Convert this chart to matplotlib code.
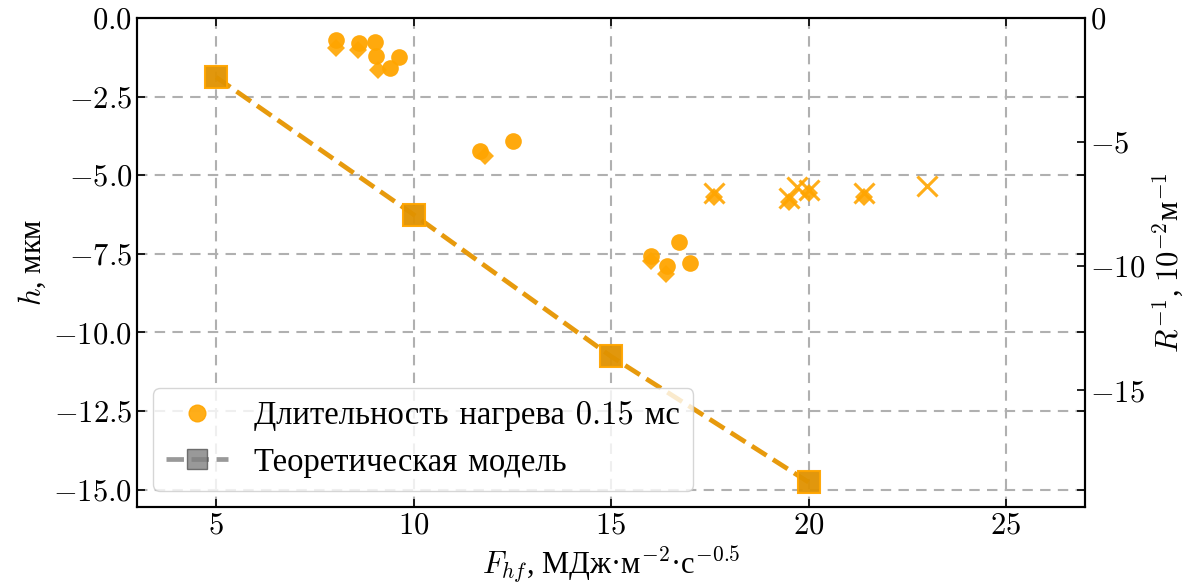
import matplotlib
matplotlib.use("Agg")
import matplotlib.pyplot as plt
from matplotlib.lines import Line2D

plt.rcParams['font.family'] = ['cmr10', 'Liberation Serif']
plt.rcParams['mathtext.fontset'] = 'cm'
plt.rcParams['axes.formatter.use_mathtext'] = True
plt.rcParams['font.size'] = 22

# measured h (left axis), circles
F_circ = [8.05, 8.61, 9.03, 9.04, 9.4, 9.63, 11.68, 12.52, 16.0, 16.41, 16.72, 17.0]
h_circ = [-0.71, -0.79, -0.75, -1.21, -1.59, -1.23, -4.22, -3.9, -7.56, -7.9, -7.12, -7.79]

# measured R^-1 (right axis), diamonds
F_diam = [8.05, 8.6, 9.1, 11.8, 16.0, 16.4, 17.6, 19.5, 20.0, 21.4]
r_diam = [-1.2, -1.28, -2.1, -5.55, -9.8, -10.3, -7.22, -7.42, -7.06, -7.22]

# measured h (left axis), crosses
F_x = [17.6, 19.5, 19.7, 20.0, 21.4, 23.0]
h_x = [-5.55, -5.72, -5.36, -5.46, -5.55, -5.33]

# theoretical model
F_model = [5, 10, 15, 20]
h_model = [-1.88, -6.25, -10.76, -14.76]

orange = '#FFA500'
dark = '#E69500'
lab_font = dict(family='Liberation Serif', size=22)

fig = plt.figure(figsize=(12, 5.87), dpi=100)
ax = fig.add_axes([137/1200, 1 - 507/587, (1085-137)/1200, (507-18)/587])
ax2 = ax.twinx()

ax.grid(True, color='#b0b0b0', linestyle=(0, (5, 3.5)), linewidth=1.5)
ax.set_axisbelow(True)

ax.plot(F_model, h_model, linestyle='--', color=dark, lw=3.4, marker='s',
        markersize=16, markerfacecolor='#E09200', markeredgecolor=orange,
        markeredgewidth=1.5, alpha=0.95, zorder=3)
ax.plot(F_circ, h_circ, 'o', color=orange, markersize=12, alpha=0.95,
        markeredgewidth=0, zorder=4)
ax.plot(F_x, h_x, 'x', color=orange, markersize=15, markeredgewidth=2.2,
        alpha=0.9, zorder=4)
ax2.plot(F_diam, r_diam, 'D', color=orange, markersize=9, alpha=0.9,
         markeredgewidth=0, zorder=4)

ax.set_xlim(3, 27)
ax.set_ylim(-15.55, 0)
ax.set_xticks([5, 10, 15, 20, 25])
ax.set_yticks([0, -2.5, -5, -7.5, -10, -12.5, -15])
ax2.set_ylim(-19.7, 0)
ax2.set_yticks([0, -5, -10, -15])

ax.tick_params(direction='in', length=6, width=1.2, top=True, right=True, labelsize=22)
ax2.tick_params(direction='in', length=6, width=1.2, labelsize=22)
for sp in ax.spines.values():
    sp.set_linewidth(1.5)
for sp in ax2.spines.values():
    sp.set_linewidth(1.5)

ax.set_xlabel('$F_{hf}$, МДж·м$^{-2}$·с$^{-0.5}$', fontdict=lab_font)
ax.set_ylabel('$h$, мкм', fontdict=lab_font)
ax2.set_ylabel('$R^{-1}$, $10^{-2}$м$^{-1}$', fontdict=lab_font)

handles = [
    Line2D([], [], linestyle='none', marker='o', color=orange, markersize=12, alpha=0.9),
    Line2D([], [], linestyle='--', color='gray', lw=3.4, marker='s', markersize=15,
           markerfacecolor='gray', markeredgecolor='#555555', alpha=0.8),
]
ax.legend(handles, ['Длительность нагрева 0.15 мс', 'Теоретическая модель'],
          loc='lower left', fontsize=23.5, framealpha=0.8, handlelength=1.9)

fig.savefig('out.png', dpi=100)
